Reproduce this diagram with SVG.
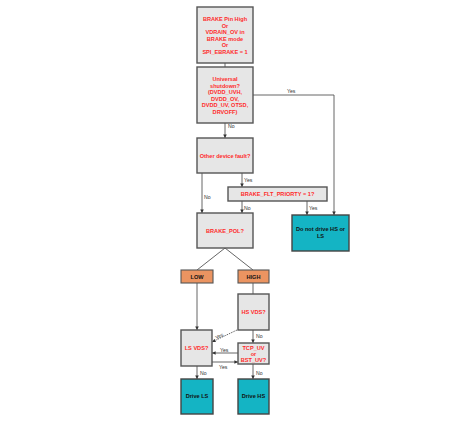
<svg xmlns="http://www.w3.org/2000/svg" width="471" height="426" viewBox="0 0 471 426">
<defs>
<marker id="ah" viewBox="0 0 6 6" refX="6" refY="3" markerWidth="4" markerHeight="4" orient="auto"><path d="M0,0 L6,3 L0,6 z" fill="#333"/></marker>
<style>
.g{fill:#e6e6e6;stroke:#555;stroke-width:1.4}
.c{fill:#14b4c4;stroke:#444;stroke-width:1.4}
.o{fill:#eb9461;stroke:#555;stroke-width:1.1}
.r{fill:#ff2b2b;font-family:"Liberation Sans",Arial,sans-serif;font-size:5.6px;font-weight:bold;text-anchor:middle}
.k{fill:#111;font-family:"Liberation Sans",Arial,sans-serif;font-size:5.6px;font-weight:bold;text-anchor:middle}
.l{fill:#333;font-family:"Liberation Sans",Arial,sans-serif;font-size:5.2px}
.w{fill:none;stroke:#555;stroke-width:0.9}
.a{fill:none;stroke:#555;stroke-width:0.9;marker-end:url(#ah)}
</style>
</defs>
<rect width="471" height="426" fill="#fff"/>
<g id="connectors">
<path class="w" d="M225,63 V67"/>
<path class="a" d="M225,123 V138"/>
<path class="a" d="M253,95 H334 V215"/>
<path class="a" d="M202,173 V213"/>
<path class="a" d="M242,173 V187"/>
<path class="a" d="M242,201 V213"/>
<path class="a" d="M307,201 V215"/>
<path class="w" d="M225,248 L197,270"/>
<path class="w" d="M225,248 L253,270"/>
<path class="a" d="M197,283 V330"/>
<path class="w" d="M253,283 V294"/>
<path class="a" d="M253,330 V343"/>
<path class="a" d="M237,330 L212,342" stroke-dasharray="1.5,1"/>
<path class="a" d="M238,353 H212"/>
<path class="a" d="M212,362 H238"/>
<path class="a" d="M197,366 V379"/>
<path class="a" d="M253,364 V379"/>
<text class="l" x="287" y="93">Yes</text>
<text class="l" x="228" y="128">No</text>
<text class="l" x="244" y="182">Yes</text>
<text class="l" x="204" y="199">No</text>
<text class="l" x="244" y="210">No</text>
<text class="l" x="309" y="210">Yes</text>
<text class="l" x="256" y="338">No</text>
<text class="l" x="215" y="338" transform="rotate(-28 219 336)">Yes</text>
<text class="l" x="220" y="352">Yes</text>
<text class="l" x="219" y="369">Yes</text>
<text class="l" x="200" y="375">No</text>
<text class="l" x="256" y="375">No</text>
</g>
<g id="n1"><rect class="g" x="197" y="7" width="56" height="56"/>
<text class="r" x="225" y="21">BRAKE Pin High</text><text class="r" x="225" y="27.5">Or</text><text class="r" x="225" y="34">VDRAIN_OV in</text><text class="r" x="225" y="40.5">BRAKE mode</text><text class="r" x="225" y="47">Or</text><text class="r" x="225" y="53.5">SPI_EBRAKE = 1</text></g>
<g id="n2"><rect class="g" x="197" y="67" width="56" height="56"/>
<text class="r" x="225" y="81">Universal</text><text class="r" x="225" y="87.5">shutdown?</text><text class="r" x="225" y="94">(DVDD_UVH,</text><text class="r" x="225" y="100.5">DVDD_OV,</text><text class="r" x="225" y="107">DVDD_UV, OTSD,</text><text class="r" x="225" y="113.5">DRVOFF)</text></g>
<g id="n3"><rect class="g" x="197" y="138" width="56" height="35"/><text class="r" x="225" y="157.5">Other device fault?</text></g>
<g id="n4"><rect class="g" x="228" y="187" width="99" height="14"/><text class="r" x="277.5" y="196">BRAKE_FLT_PRIORTY = 1?</text></g>
<g id="n5"><rect class="c" x="292" y="215" width="57" height="36"/><text class="k" x="320.5" y="231">Do not drive HS or</text><text class="k" x="320.5" y="238">LS</text></g>
<g id="n6"><rect class="g" x="197" y="213" width="56" height="35"/><text class="r" x="225" y="232.5">BRAKE_POL?</text></g>
<g id="n7"><rect class="o" x="181" y="270" width="32" height="13"/><text class="k" x="197" y="278.5">LOW</text></g>
<g id="n8"><rect class="o" x="238" y="270" width="31" height="13"/><text class="k" x="253.5" y="278.5">HIGH</text></g>
<g id="n9"><rect class="g" x="238" y="294" width="31" height="36"/><text class="r" x="253.5" y="313.5">HS VDS?</text></g>
<g id="n10"><rect class="g" x="181" y="330" width="31" height="36"/><text class="r" x="196.5" y="349.5">LS VDS?</text></g>
<g id="n11"><rect class="g" x="238" y="343" width="31" height="21"/><text class="r" x="253.5" y="349.5">TCP_UV</text><text class="r" x="253.5" y="355.5">or</text><text class="r" x="253.5" y="361.5">BST_UV?</text></g>
<g id="n12"><rect class="c" x="181" y="379" width="32" height="35"/><text class="k" x="197" y="398">Drive LS</text></g>
<g id="n13"><rect class="c" x="238" y="379" width="31" height="35"/><text class="k" x="253.5" y="398">Drive HS</text></g>
</svg>
